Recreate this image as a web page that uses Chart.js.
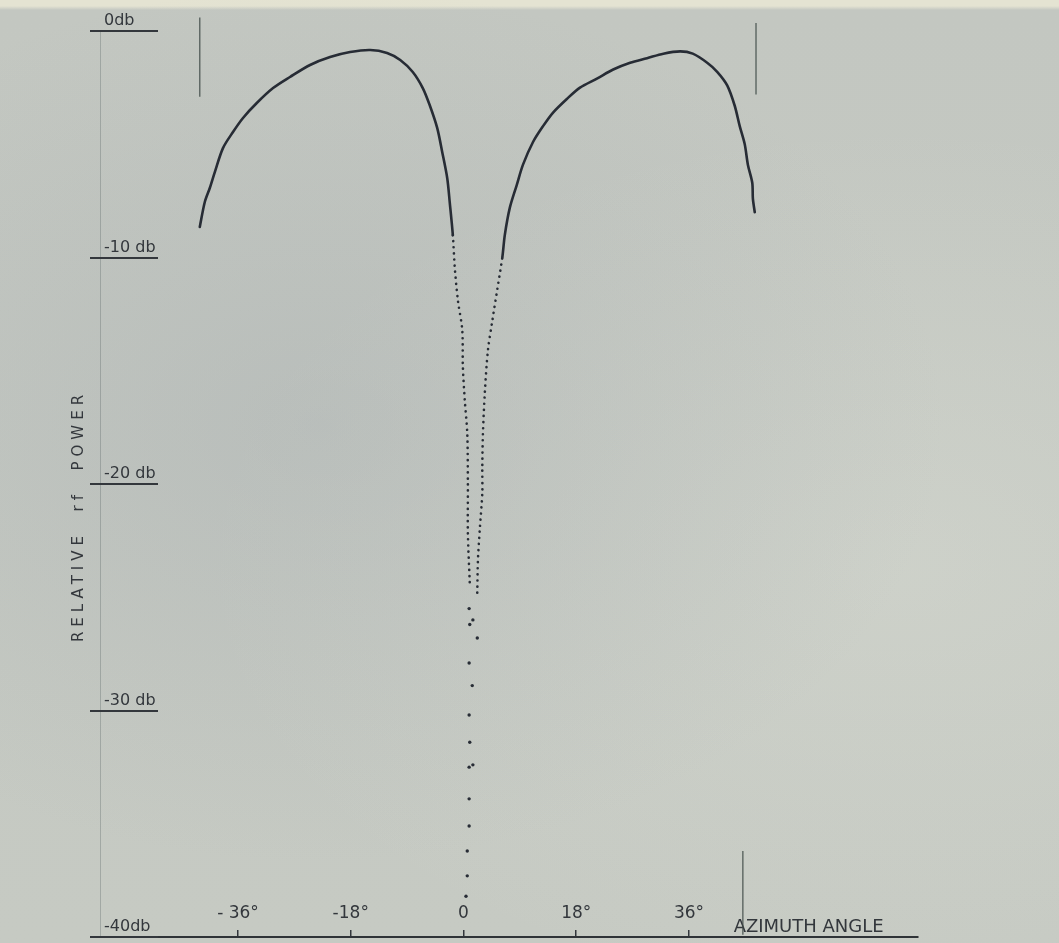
<!DOCTYPE html>
<html>
<head>
<meta charset="utf-8">
<title>Relative rf power vs azimuth angle</title>
<script src="https://cdn.jsdelivr.net/npm/chart.js@4.4.1/dist/chart.umd.min.js"></script>
<style>
  html, body { margin: 0; padding: 0; }
  body {
    width: 1059px; height: 943px; overflow: hidden;
    background:
      radial-gradient(ellipse at 30% 45%, rgba(150,158,165,0.25), rgba(150,158,165,0) 60%),
      radial-gradient(ellipse at 85% 60%, rgba(225,228,218,0.3), rgba(225,228,218,0) 55%),
      linear-gradient(180deg, #e4e3d2 0px, #e4e3d2 6px, #c3c7c1 10px, #c6cac3 100%);
  }
  #wrap { position: relative; width: 1059px; height: 943px; }
</style>
</head>
<body>
<div id="wrap"><canvas id="patternChart"></canvas></div>
<script>
// Values (azimuth in degrees, power in db)
const leftLobeDeg = [-42.1, -41.3, -40.5, -39.7, -38.4, -36.8, -35.2, -33.0, -30.4, -27.7, -24.5, -21.3, -18.1, -14.9, -12.2, -10.1, -8.1, -6.5, -5.4, -4.2, -3.4, -2.6, -2.2, -1.7, -1.4, -0.9, -0.2, -0.1, 0.2, 0.6, 0.7, 0.7, 1.0];
const leftLobeDb = [-8.65, -7.55, -6.93, -6.23, -5.17, -4.46, -3.84, -3.18, -2.52, -2.03, -1.50, -1.15, -0.93, -0.84, -0.97, -1.28, -1.81, -2.52, -3.27, -4.28, -5.34, -6.49, -7.55, -9.01, -10.42, -11.88, -13.20, -14.83, -16.29, -17.75, -19.96, -22.16, -24.37];

const rightLobeDeg = [2.2, 2.3, 2.6, 3.0, 3.0, 3.1, 3.4, 3.9, 4.6, 5.4, 6.2, 6.6, 7.4, 8.5, 9.5, 11.1, 12.7, 14.3, 16.5, 18.6, 21.3, 23.9, 26.6, 29.3, 31.9, 34.6, 36.6, 38.9, 40.5, 42.1, 43.3, 44.1, 44.9, 45.4, 46.1, 46.2, 46.5];
const rightLobeDb = [-24.8, -23.4, -22.0, -20.4, -19.3, -17.8, -16.0, -14.1, -12.8, -11.4, -10.0, -9.0, -7.8, -6.8, -5.9, -4.9, -4.2, -3.6, -3.0, -2.5, -2.1, -1.7, -1.4, -1.2, -1.0, -0.9, -1.0, -1.4, -1.8, -2.4, -3.3, -4.2, -5.0, -5.9, -6.7, -7.4, -8.0];

// sparse dots down the null
const nullDeg = [0.9, 1.5, 1.0, 2.2, 0.9, 1.4, 0.9, 1.0, 0.9, 1.5, 0.9, 0.9, 0.6, 0.6, 0.4];
const nullDb = [-25.5, -26.0, -26.2, -26.8, -27.9, -28.9, -30.2, -31.4, -32.5, -32.4, -33.9, -35.1, -36.2, -37.3, -38.2];

// hand drawn limit marks
const markDeg = [-42.1, 46.7, 44.6];
const markTopDb = [0.6, 0.35, -36.2];
const markBottomDb = [-2.9, -2.8, -39.9];

const xTickValues = [-36, -18, 0, 18, 36];
const xTickLabels = ['- 36°', '-18°', '0', '18°', '36°'];
const yTickValues = [0, -10, -20, -30, -40];
const yTickLabels = ['0db', '-10 db', '-20 db', '-30 db', '-40db'];

const ink = '#272c35';
const textColor = '#33373c';
const fontFamily = "'DejaVu Sans', 'Liberation Sans', sans-serif";

function toPoints(xs, ys) {
  return xs.map((x, i) => ({ x: x, y: ys[i] }));
}

const markSets = markDeg.map((d, i) => ({
  data: [{ x: d, y: markTopDb[i] }, { x: d, y: markBottomDb[i] }],
  showLine: true,
  borderColor: 'rgba(62,74,70,0.85)',
  borderWidth: 1.3,
  pointRadius: 0,
  clip: false
}));

// dotted look where the trace falls steeply into the null
const dottedBelow = ctx => (ctx.p0.parsed.y < -9 && ctx.p1.parsed.y < -9) ? [0.1, 6] : undefined;

const underlines = {
  id: 'dbUnderlines',
  afterDraw(chart) {
    const { ctx, chartArea } = chart;
    const y = chart.scales.y;
    ctx.save();
    ctx.strokeStyle = textColor;
    ctx.lineWidth = 1.8;
    y.ticks.forEach(t => {
      const py = Math.round(y.getPixelForValue(t.value));
      ctx.beginPath();
      ctx.moveTo(chartArea.left - 10, py);
      ctx.lineTo(chartArea.left + 58, py);
      ctx.stroke();
    });
    // vertical axis title, widely spaced lettering
    ctx.translate(chartArea.left - 21, (chartArea.top + chartArea.bottom) / 2 + 32);
    ctx.rotate(-Math.PI / 2);
    ctx.font = '15px ' + fontFamily;
    ctx.letterSpacing = '5px';
    ctx.fillStyle = textColor;
    ctx.textAlign = 'center';
    ctx.textBaseline = 'middle';
    ctx.fillText('RELATIVE  rf  POWER', 0, 0);
    ctx.restore();
  }
};

const chart = new Chart(document.getElementById('patternChart'), {
  type: 'scatter',
  data: {
    datasets: [
      {
        data: toPoints(leftLobeDeg, leftLobeDb),
        showLine: true,
        borderColor: ink,
        borderWidth: 2.6,
        borderCapStyle: 'round',
        tension: 0.3,
        pointRadius: 0,
        segment: { borderDash: dottedBelow }
      },
      {
        data: toPoints(rightLobeDeg, rightLobeDb),
        showLine: true,
        borderColor: ink,
        borderWidth: 2.6,
        borderCapStyle: 'round',
        tension: 0.3,
        pointRadius: 0,
        segment: { borderDash: dottedBelow }
      },
      {
        data: toPoints(nullDeg, nullDb),
        pointRadius: 1.7,
        pointBackgroundColor: ink,
        pointBorderWidth: 0
      },
      ...markSets
    ]
  },
  options: {
    responsive: true,
    maintainAspectRatio: false,
    animation: false,
    layout: { padding: { left: 100, right: 141, top: 31, bottom: 0 } },
    plugins: {
      legend: { display: false },
      tooltip: { enabled: false }
    },
    scales: {
      x: {
        type: 'linear',
        min: -58.03,
        max: 72.56,
        afterBuildTicks: s => { s.ticks = xTickValues.map(v => ({ value: v })); },
        afterFit: s => { s.height = 6; s.paddingLeft = 0; s.paddingRight = 0; },
        grid: {
          drawOnChartArea: false,
          drawTicks: true,
          tickLength: -7,
          color: textColor,
          lineWidth: 1.5
        },
        border: { display: true, color: '#2f3337', width: 2 },
        ticks: {
          mirror: true,
          padding: 13,
          maxRotation: 0,
          color: textColor,
          font: { family: fontFamily, size: 17 },
          callback: (v, i) => xTickLabels[i]
        },
        title: {
          display: true,
          text: 'AZIMUTH ANGLE      ',
          align: 'end',
          color: textColor,
          font: { family: fontFamily, size: 18 },
          padding: { top: 0, bottom: 5 }
        }
      },
      y: {
        type: 'linear',
        min: -40,
        max: 0,
        afterBuildTicks: s => { s.ticks = yTickValues.map(v => ({ value: v })); },
        afterFit: s => { s.width = 0; s.paddingTop = 0; s.paddingBottom = 0; },
        grid: { display: false },
        border: { display: true, color: 'rgba(95,105,105,0.35)', width: 1 },
        ticks: {
          mirror: true,
          padding: 4,
          labelOffset: -10,
          color: textColor,
          font: { family: fontFamily, size: 16 },
          callback: (v, i) => yTickLabels[i]
        }
      }
    }
  },
  plugins: [underlines]
});
</script>
</body>
</html>
